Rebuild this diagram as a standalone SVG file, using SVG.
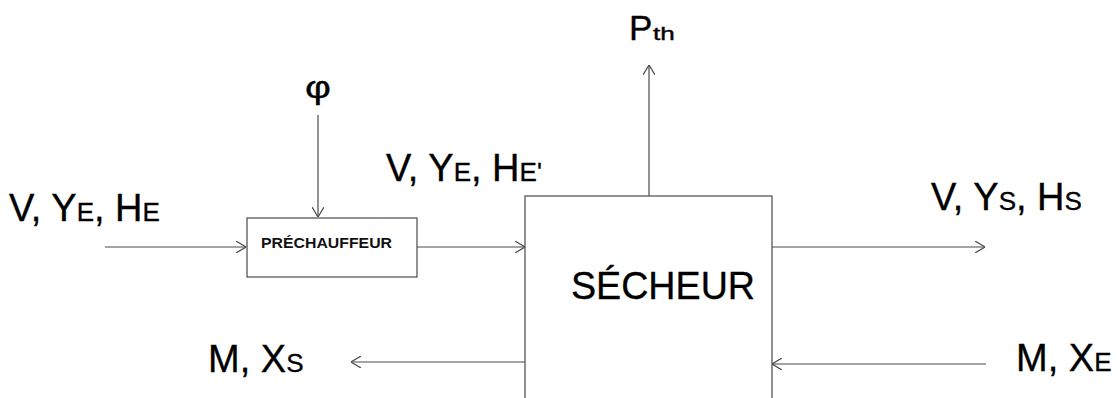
<svg xmlns="http://www.w3.org/2000/svg" width="1118" height="398" viewBox="0 0 1118 398">
<style>
.ln{stroke:#4a4a4a;stroke-width:1.2;fill:none}
.bx{stroke:#4a4a4a;stroke-width:1.2;fill:#fff}
.t{font-family:"Liberation Sans",Arial,sans-serif;font-size:38px;fill:#000;stroke:#000;stroke-width:0.35}
.s{font-size:26px}
.pc{font-family:"Liberation Sans",Arial,sans-serif;font-size:15.5px;font-weight:bold;fill:#111}
</style>
<defs>
<marker id="ah" viewBox="0 0 10 12" refX="10" refY="6" markerWidth="10" markerHeight="12" markerUnits="userSpaceOnUse" orient="auto">
<path d="M0,0 L10,6 L0,12" fill="none" stroke="#4a4a4a" stroke-width="1.2"/>
</marker>
</defs>
<rect width="1118" height="398" fill="#fff"/>
<g id="connectors">
<line class="ln" x1="105" y1="247" x2="246" y2="247" marker-end="url(#ah)"/>
<line class="ln" x1="318" y1="115" x2="318" y2="217" marker-end="url(#ah)"/>
<line class="ln" x1="417" y1="247" x2="525" y2="247" marker-end="url(#ah)"/>
<line class="ln" x1="649" y1="196" x2="649" y2="65" marker-end="url(#ah)"/>
<line class="ln" x1="772" y1="247" x2="985" y2="247" marker-end="url(#ah)"/>
<line class="ln" x1="525" y1="362" x2="351" y2="362" marker-end="url(#ah)"/>
<line class="ln" x1="986" y1="364" x2="772" y2="364" marker-end="url(#ah)"/>
</g>
<g id="prechauffeur">
<rect class="bx" x="247" y="218" width="170" height="59"/>
<text class="pc" x="261" y="248" textLength="131" lengthAdjust="spacingAndGlyphs">PRÉCHAUFFEUR</text>
</g>
<g id="secheur">
<rect class="bx" x="525" y="196" width="247" height="220"/>
<text class="t" x="571" y="299" textLength="184" lengthAdjust="spacingAndGlyphs">SÉCHEUR</text>
</g>
<g id="label-in">
<text class="t" x="9" y="221">V, Y<tspan class="s">E</tspan>, H<tspan class="s">E</tspan></text>
</g>
<g id="label-mid">
<text class="t" x="386" y="181">V, Y<tspan class="s">E</tspan>, H<tspan class="s">E'</tspan></text>
</g>
<g id="label-out">
<text class="t" x="931" y="210">V, Y<tspan class="s">S</tspan>, H<tspan class="s">S</tspan></text>
</g>
<g id="label-ms">
<text class="t" x="208" y="372">M, X<tspan class="s">S</tspan></text>
</g>
<g id="label-me">
<text class="t" x="1016" y="371">M, X<tspan class="s">E</tspan></text>
</g>
<g id="label-phi">
<text class="t" transform="translate(318,98) scale(1.25,1)" text-anchor="middle" style="font-size:32px">φ</text>
</g>
<g id="label-pth">
<text class="t" x="629" y="40" style="font-size:35px">P</text>
<text class="t" transform="translate(653,40) scale(1.45,1)" style="font-size:18px">th</text>
</g>
</svg>
